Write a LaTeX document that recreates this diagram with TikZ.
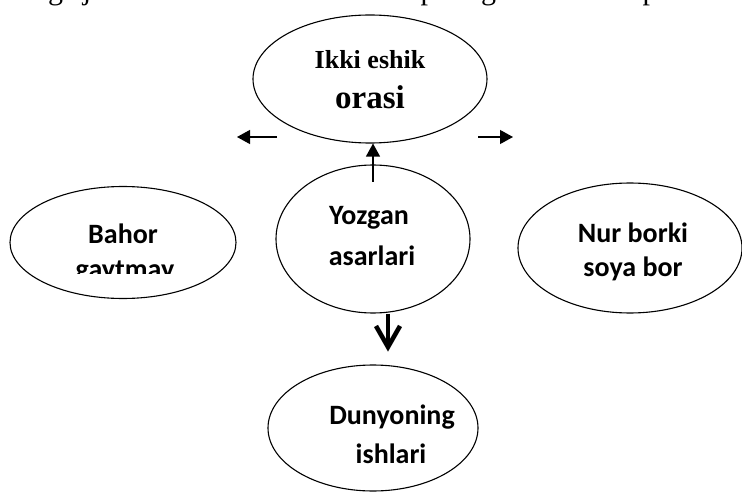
\documentclass[tikz,border=0pt]{standalone}
\usepackage{fontspec}
\newfontfamily\calibrifont{Carlito}
\newfontfamily\timesfont{Liberation Serif}
\usetikzlibrary{shapes.geometric,arrows.meta,calc}
\begin{document}
\begin{tikzpicture}[x=1pt,y=-1pt,
  bubble/.style={draw, ellipse, line width=1.1pt, inner sep=0pt},
  lbl/.style={font=\calibrifont\bfseries\fontsize{28}{34}\selectfont, anchor=base, inner sep=0pt},
  serifbold/.style={font=\timesfont\bfseries\fontsize{#1}{#1}\selectfont, anchor=base, inner sep=0pt},
  frag/.style={font=\timesfont\fontsize{30}{30}\selectfont, anchor=base, inner sep=0pt},
  thinarrow/.style={line width=1.2pt, -{Triangle[length=13pt,width=14pt]}},
  heavy/.style={line width=4.5pt, line join=miter, line cap=butt}]
\useasboundingbox (0,0) rectangle (742,492);

% descenders of the text line above, cut by the page edge
\node[frag] (f1) at (55.5,0) {g};
\node[frag] (f2) at (87,0) {j};
\node[frag] (f3) at (428,0) {p};
\node[frag] (f4) at (488.5,0) {g};
\node[frag] (f5) at (650,0) {p};

% ellipses
\node[bubble, minimum width=234pt, minimum height=128pt] (top) at (370,79) {};
\node[bubble, minimum width=194pt, minimum height=148pt] (mid) at (373,239) {};
\node[bubble, minimum width=226pt, minimum height=112pt] (left) at (123,242.5) {};
\node[bubble, minimum width=224pt, minimum height=130pt] (right) at (630,248) {};
\node[bubble, minimum width=210pt, minimum height=126pt] (bot) at (373,428) {};

% labels
\node[serifbold=26] (t1) at (370,69) {Ikki eshik};
\node[serifbold=33] (t2) at (370,109) {orasi};
\node[lbl] (m1) at (369,225) {Yozgan};
\node[lbl] (m2) at (372,265) {asarlari};
\node[lbl] (l1) at (123,243) {Bahor};
\begin{scope}
  \clip (0,0) rectangle (742,273);
  \node[lbl] (l2) at (125,278) {gaytmay};
\end{scope}
\node[lbl] (r1) at (633,242) {Nur borki};
\begin{scope}
  \clip (0,0) rectangle (742,281);
  \node[lbl] (r2) at (633,276) {soya bor};
\end{scope}
\node[lbl] (b1) at (392,424) {Dunyoning};
\node[lbl] (b2) at (391,463) {ishlari};

% thin arrows
\coordinate (upstart) at (373,182);
\draw[thinarrow] (upstart) -- (top.south -| upstart);
\coordinate (lfrom) at (277,137);
\coordinate (lto) at (237,137);
\draw[thinarrow] (lfrom) -- (lto);
\coordinate (rfrom) at (478,137);
\coordinate (rto) at (513,137);
\draw[thinarrow] (rfrom) -- (rto);

% heavy arrow with soft shadow
\coordinate (dtip) at (388,347);
\begin{scope}[shift={(1.5,2.5)}, opacity=0.45]
  \draw[heavy, draw=black!45] (mid.south -| dtip) -- (dtip);
  \draw[heavy, draw=black!45] ($(dtip)+(-12,-21)$) -- (dtip) -- ($(dtip)+(12,-21)$);
\end{scope}
\draw[heavy] (mid.south -| dtip) -- (dtip);
\draw[heavy] ($(dtip)+(-12,-21)$) -- (dtip) -- ($(dtip)+(12,-21)$);
\end{tikzpicture}
\end{document}
